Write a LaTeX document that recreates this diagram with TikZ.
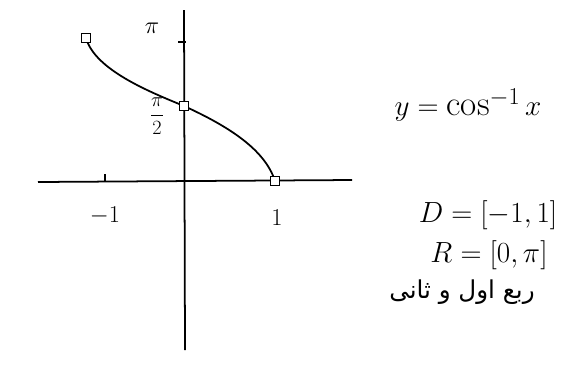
\documentclass[tikz,border=0pt]{standalone}
\usepackage{amsmath}
\usepackage{fontspec}
\newfontfamily\arabicfont[Script=Arabic]{DejaVu Sans}
\TeXXeTstate=1
\usetikzlibrary{positioning}

\begin{document}
\begin{tikzpicture}[
    x=0.03cm, y=-0.03cm,
    axis/.style={line width=1.5pt},
    curve/.style={line width=1.5pt},
    marker/.style={draw, line width=1pt, fill=white,
      minimum size=7pt, inner sep=0pt},
    ticklabel/.style={font=\fontsize{22}{24}\selectfont},
    formula/.style={font=\fontsize{30}{34}\selectfont}
  ]
    \useasboundingbox (0,0) rectangle (573,383);
    % axes
    \draw[axis] (38,182) -- (352,180);
    \draw[axis] (184,10) -- (185,350);
    \draw[axis] (178,42) -- (186,42);
    \draw[axis] (105,174) -- (105,181);
    % arccos curve
    \coordinate (start) at (86,38);
    \coordinate (mid) at (184,106);
    \coordinate (end) at (275,181);
    \draw[curve] (start) .. controls (95,70) and (150,92) .. (mid)
      .. controls (230,127) and (265,150) .. (end);
    \node[marker] (startmark) at (start) {};
    \node[marker] (midmark) at (mid) {};
    \node[marker] (endmark) at (end) {};
    % tick labels
    \node[ticklabel] (pi) at (152,28) {$\pi$};
    \node[font=\fontsize{16}{18}\selectfont] (halfpi) at (157,116) {$\dfrac{\pi}{2}$};
    \node[ticklabel] (minusone) at (105,216) {$-1$};
    \node[ticklabel] (one) at (277,218) {$1$};
    % formulas
    \node[formula] (func) at (468,105) {$y=\cos^{-1}x$};
    \node[formula] (domain) at (488,215) {$D=[-1,1]$};
    \node[formula] (range) at (489,255) {$R=[0,\pi]$};
    \node[font=\arabicfont\fontsize{21}{24}\selectfont] (quad) at (462,292)
      {\beginR ربع اول و ثانی\endR};
  \end{tikzpicture}
\end{document}
